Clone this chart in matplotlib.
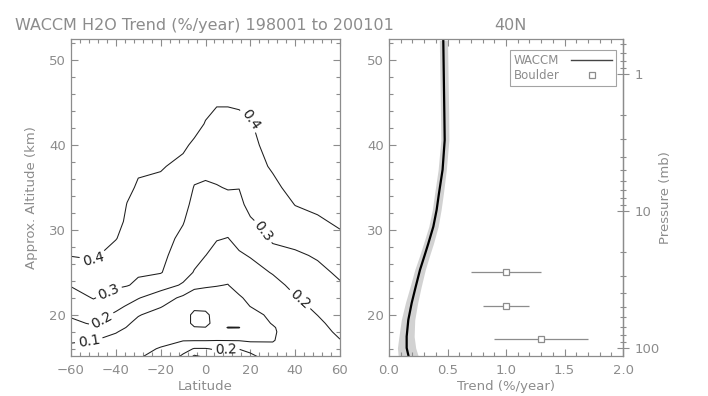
import numpy as np
import matplotlib
matplotlib.use('Agg')
import matplotlib.pyplot as plt
from matplotlib.lines import Line2D
from matplotlib.ticker import MultipleLocator, FixedLocator, LogLocator, NullFormatter

# ------------------------------------------------------------
# Données
# ------------------------------------------------------------
titre = 'WACCM H2O Trend (%/year) 198001 to 200101'
station = '40N'

# Champ de tendance (%/an) : latitude x altitude (km)
lats = [-60, -50, -40, -35, -30, -20, -10, -5, 0, 5, 10, 15, 20, 30, 40, 50, 60]
alts = [15, 16, 17, 18, 18.5, 19, 20, 21, 22, 23.5, 25, 27, 29, 31, 33, 35,
        37.5, 40, 42.5, 45, 48, 52.5]
trend = [
    [0.05, 0.05, 0.04, 0.035, 0.095, 0.125, 0.22, 0.33, 0.295, 0.24, 0.24, 0.24, 0.23, 0.15, 0.16, 0.155, 0.17],
    [0.08, 0.07, 0.06, 0.05, 0.08, 0.105, 0.169, 0.205, 0.205, 0.19, 0.195, 0.198, 0.17, 0.12, 0.15, 0.16, 0.185],
    [0.11, 0.102, 0.08, 0.065, 0.068, 0.08, 0.095, 0.095, 0.095, 0.098, 0.097, 0.095, 0.085, 0.095, 0.145, 0.165, 0.198],
    [0.145, 0.159, 0.104, 0.085, 0.065, 0.06, 0.06, 0.04, 0.03, 0.05, 0.03, 0.03, 0.06, 0.09, 0.145, 0.175, 0.213],
    [0.162, 0.185, 0.124, 0.097, 0.07, 0.057, 0.05, 0.005, 0.002, 0.04, -0.004, -0.003, 0.055, 0.093, 0.148, 0.18, 0.22],
    [0.18, 0.21, 0.144, 0.109, 0.08, 0.055, 0.04, -0.02, -0.02, 0.03, 0.03, 0.03, 0.055, 0.105, 0.152, 0.186, 0.227],
    [0.211, 0.242, 0.184, 0.15, 0.105, 0.07, 0.04, -0.02, -0.015, 0.03, 0.045, 0.055, 0.07, 0.12, 0.165, 0.201, 0.241],
    [0.238, 0.274, 0.225, 0.192, 0.16, 0.105, 0.055, 0.02, 0.02, 0.045, 0.06, 0.075, 0.101, 0.135, 0.18, 0.215, 0.255],
    [0.265, 0.304, 0.267, 0.238, 0.205, 0.15, 0.08, 0.06, 0.06, 0.07, 0.075, 0.09, 0.12, 0.15, 0.195, 0.23, 0.27],
    [0.305, 0.336, 0.312, 0.305, 0.284, 0.24, 0.19, 0.12, 0.11, 0.103, 0.098, 0.13, 0.145, 0.175, 0.22, 0.253, 0.291],
    [0.347, 0.368, 0.337, 0.33, 0.31, 0.305, 0.235, 0.195, 0.15, 0.13, 0.125, 0.16, 0.17, 0.205, 0.245, 0.277, 0.315],
    [0.403, 0.41, 0.37, 0.355, 0.326, 0.32, 0.26, 0.225, 0.201, 0.17, 0.16, 0.19, 0.205, 0.265, 0.285, 0.31, 0.348],
    [0.43, 0.43, 0.403, 0.375, 0.343, 0.335, 0.28, 0.245, 0.225, 0.205, 0.198, 0.225, 0.245, 0.315, 0.33, 0.35, 0.382],
    [0.45, 0.445, 0.425, 0.388, 0.359, 0.35, 0.305, 0.26, 0.245, 0.235, 0.23, 0.255, 0.29, 0.335, 0.37, 0.387, 0.415],
    [0.46, 0.455, 0.44, 0.398, 0.375, 0.37, 0.33, 0.275, 0.265, 0.265, 0.27, 0.28, 0.325, 0.355, 0.402, 0.42, 0.435],
    [0.47, 0.46, 0.45, 0.415, 0.392, 0.385, 0.355, 0.295, 0.29, 0.295, 0.305, 0.302, 0.345, 0.38, 0.43, 0.44, 0.445],
    [0.47, 0.465, 0.455, 0.43, 0.41, 0.405, 0.385, 0.335, 0.32, 0.33, 0.33, 0.33, 0.365, 0.41, 0.45, 0.455, 0.45],
    [0.47, 0.47, 0.46, 0.44, 0.42, 0.42, 0.41, 0.39, 0.37, 0.355, 0.355, 0.355, 0.38, 0.43, 0.46, 0.46, 0.45],
    [0.47, 0.47, 0.46, 0.445, 0.43, 0.43, 0.425, 0.42, 0.397, 0.38, 0.38, 0.38, 0.395, 0.44, 0.46, 0.46, 0.45],
    [0.47, 0.47, 0.46, 0.45, 0.44, 0.44, 0.435, 0.43, 0.415, 0.405, 0.405, 0.41, 0.415, 0.445, 0.46, 0.46, 0.45],
    [0.46, 0.465, 0.46, 0.45, 0.445, 0.445, 0.44, 0.435, 0.425, 0.42, 0.42, 0.425, 0.425, 0.45, 0.46, 0.46, 0.45],
    [0.46, 0.46, 0.46, 0.45, 0.45, 0.45, 0.445, 0.44, 0.43, 0.43, 0.43, 0.43, 0.43, 0.45, 0.46, 0.46, 0.45],
]
niveaux = [0.0, 0.1, 0.2, 0.3, 0.4]

# Profil WACCM à 40N (avec enveloppe grise)
waccm_alt = [52.35, 43.7, 40.6, 37.1, 34.3, 32.35, 30.4, 28.4, 26.9, 25.3,
             23.3, 21.4, 19.4, 17.45, 16.1, 14.9]
waccm_trend = [0.464, 0.473, 0.476, 0.458, 0.427, 0.407, 0.379, 0.336, 0.302,
               0.265, 0.228, 0.194, 0.165, 0.151, 0.151, 0.171]
waccm_bas = [0.43, 0.44, 0.443, 0.42, 0.39, 0.37, 0.34, 0.295, 0.26, 0.22,
             0.18, 0.14, 0.105, 0.085, 0.072, 0.08]
waccm_haut = [0.50, 0.51, 0.512, 0.49, 0.465, 0.445, 0.42, 0.38, 0.345, 0.31,
              0.275, 0.245, 0.22, 0.215, 0.228, 0.255]

# Mesures Boulder
boulder_alt = [25.1, 21.1, 17.1]
boulder_trend = [1.0, 1.0, 1.3]
boulder_err = [0.3, 0.2, 0.4]

# ------------------------------------------------------------
# Style
# ------------------------------------------------------------
GRIS = '#8c8c8c'
NOIR = '#1e1e1e'
plt.rcParams['font.family'] = 'DejaVu Sans'
plt.rcParams['font.size'] = 9.5

ZMIN, ZMAX = 15.15, 52.5
H = 7.0  # hauteur d'échelle (km) pour l'axe pression

fig = plt.figure(figsize=(7.08, 3.96), dpi=100)
ax1 = fig.add_axes([71 / 708, 1 - 356 / 396, 269 / 708, 317 / 396])
ax2 = fig.add_axes([389 / 708, 1 - 356 / 396, 234 / 708, 317 / 396])


def habiller(ax):
    for s in ax.spines.values():
        s.set_color(GRIS)
        s.set_linewidth(0.9)
    ax.tick_params(which='both', direction='in', colors=GRIS, labelcolor=GRIS,
                   width=0.8, labelsize=9.5)
    ax.tick_params(which='major', length=5)
    ax.tick_params(which='minor', length=2.8)


# ------------------------------------------------------------
# Panneau gauche : contours latitude / altitude
# ------------------------------------------------------------
cs = ax1.contour(lats, alts, np.array(trend), levels=niveaux,
                 colors=NOIR, linewidths=0.75)
positions = [(-52, 16.9), (-46, 19.2), (-43, 22.6), (-50, 26.4),
             (20, 43.0), (24, 29.5), (42, 21.8), (9, 16.0)]
ax1.clabel(cs, fmt='%.1f', fontsize=10, inline=True, inline_spacing=3,
           manual=positions)

ax1.set_xlim(-60, 60)
ax1.set_ylim(ZMIN, ZMAX)
ax1.xaxis.set_major_locator(MultipleLocator(20))
ax1.xaxis.set_minor_locator(MultipleLocator(4))
ax1.yaxis.set_major_locator(MultipleLocator(10))
ax1.yaxis.set_minor_locator(MultipleLocator(2))
habiller(ax1)
ax1.tick_params(which='both', top=True, right=True)
ax1.tick_params(axis='x', pad=6)
ax1.set_xlabel('Latitude', color=GRIS, labelpad=2)
ax1.set_ylabel('Approx. Altitude (km)', color=GRIS, labelpad=8)

# ------------------------------------------------------------
# Panneau droit : profil 40N
# ------------------------------------------------------------
ax2.fill_betweenx(waccm_alt, waccm_bas, waccm_haut, color='#d2d2d2', lw=0)
ax2.plot(waccm_trend, waccm_alt, color='black', lw=1.6)
ax2.errorbar(boulder_trend, boulder_alt, xerr=boulder_err, fmt='s',
             ms=5, mfc='white', mec=GRIS, mew=0.9, ecolor=GRIS,
             elinewidth=0.9, capsize=0)

ax2.set_xlim(0, 2.0)
ax2.set_ylim(ZMIN, ZMAX)
ax2.xaxis.set_major_locator(MultipleLocator(0.5))
ax2.xaxis.set_minor_locator(MultipleLocator(0.1))
ax2.yaxis.set_major_locator(MultipleLocator(10))
ax2.yaxis.set_minor_locator(MultipleLocator(2))
ax2.xaxis.set_major_formatter(plt.FormatStrFormatter('%.1f'))
habiller(ax2)
ax2.tick_params(which='both', top=True, right=False)
ax2.tick_params(axis='x', pad=6)
ax2.set_xlabel('Trend (%/year)', color=GRIS, labelpad=2)

poignees = [Line2D([], [], color='#444444', lw=1.0),
            Line2D([], [], ls='none', marker='s', ms=5, mfc='white',
                   mec=GRIS, mew=0.9)]
leg = ax2.legend(poignees, ['WACCM', 'Boulder'], loc='upper right',
                 bbox_to_anchor=(0.97, 0.965), markerfirst=False,
                 fancybox=False, edgecolor=GRIS, fontsize=8.5,
                 labelcolor=GRIS, borderaxespad=0, handlelength=3.5,
                 borderpad=0.3, labelspacing=0.2, handletextpad=1.0)
leg.get_frame().set_linewidth(0.8)

# Axe pression (mb) à droite
ax3 = ax2.twinx()
ax3.set_yscale('log')
ax3.set_ylim(1000 * np.exp(-ZMIN / H), 1000 * np.exp(-ZMAX / H))
ax3.yaxis.set_major_locator(FixedLocator([1, 10, 100]))
ax3.set_yticklabels(['1', '10', '100'])
ax3.yaxis.set_minor_locator(LogLocator(base=10, subs=np.arange(2, 10)))
ax3.yaxis.set_minor_formatter(NullFormatter())
for s in ax3.spines.values():
    s.set_visible(False)
ax3.spines['right'].set_visible(True)
ax3.spines['right'].set_color(GRIS)
ax3.spines['right'].set_linewidth(0.9)
ax3.tick_params(which='both', direction='inout', colors=GRIS,
                labelcolor=GRIS, width=0.8, labelsize=9.5, pad=4)
ax3.tick_params(which='major', length=8)
ax3.tick_params(which='minor', length=4)
ax3.set_ylabel('Pressure (mb)', color=GRIS, labelpad=0)

# Titres
fig.text(15 / 708, 1 - 30 / 396, titre, ha='left', va='baseline',
         color=GRIS, fontsize=11.5)
fig.text(510 / 708, 1 - 30 / 396, station, ha='center', va='baseline',
         color=GRIS, fontsize=11.5)

fig.savefig('out.png', dpi=100)
